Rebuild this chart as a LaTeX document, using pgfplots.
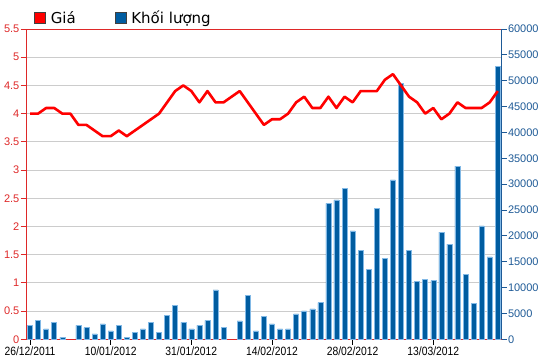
\documentclass[border=0pt]{standalone}
\usepackage{fontspec}
\setmainfont{Liberation Sans}
\newfontfamily\legfont{DejaVu Sans}
\newfontfamily\narrowfont[FakeStretch=0.86]{Liberation Sans}
\usepackage{pgfplots}
\usepackage{pgfplotstable}
\pgfplotsset{compat=1.18}
\definecolor{pricered}{RGB}{255,0,0}
\definecolor{axred}{RGB}{222,40,40}
\definecolor{barblue}{RGB}{0,92,160}
\definecolor{barhalo}{RGB}{130,185,230}
\definecolor{axblue}{RGB}{30,90,150}

\pgfplotstableread{
x v
0 2710
1 3680
2 2000
3 3290
4 390
6 2710
7 2250
8 1030
9 2960
10 1610
11 2710
12 390
13 1350
14 2000
15 3290
16 1350
17 4650
18 6580
19 3290
20 2000
21 2710
22 3680
23 9540
24 2250
26 3540
27 8510
28 1610
29 4450
30 2960
31 2000
32 2000
33 4900
34 5480
35 5870
36 7090
37 26300
38 26950
39 29150
40 20960
41 17150
42 13550
43 25350
44 15670
45 30830
46 49540
47 17150
48 11150
49 11610
50 11340
51 20700
52 18380
53 33480
54 12580
55 6970
56 21920
57 15920
58 52750
}\voltable

\pgfplotstableread{
x p
0 4.0
1 4.0
2 4.1
3 4.1
4 4.0
5 4.0
6 3.8
7 3.8
8 3.7
9 3.6
10 3.6
11 3.7
12 3.6
13 3.7
14 3.8
15 3.9
16 4.0
17 4.2
18 4.4
19 4.5
20 4.4
21 4.2
22 4.4
23 4.2
24 4.2
25 4.3
26 4.4
27 4.2
28 4.0
29 3.8
30 3.9
31 3.9
32 4.0
33 4.2
34 4.3
35 4.1
36 4.1
37 4.3
38 4.1
39 4.3
40 4.2
41 4.4
42 4.4
43 4.4
44 4.6
45 4.7
46 4.5
47 4.3
48 4.2
49 4.0
50 4.1
51 3.9
52 4.0
53 4.2
54 4.1
55 4.1
56 4.1
57 4.2
58 4.4
}\pricetable

\pgfplotsset{common/.style={scale only axis, width=475.8bp, height=310.3bp,
  at={(26bp,24.7bp)}, anchor=south west, xmin=-0.5, xmax=58.5,
  /pgf/number format/assume math mode=true}}

\begin{document}
\begin{tikzpicture}
\path[use as bounding box] (0,0) rectangle (550bp,364bp);
% grid, left axis, x axis
\begin{axis}[common, ymin=0, ymax=5.5,
  ytick={0,0.5,1,1.5,2,2.5,3,3.5,4,4.5,5,5.5},
  yticklabels={0,0.5,1,1.5,2,2.5,3,3.5,4,4.5,5,5.5},
  xtick={0,10,20,30,40,50},
  xticklabels={26/12/2011,10/01/2012,31/01/2012,14/02/2012,28/02/2012,13/03/2012},
  xtick pos=bottom, ytick pos=left, tick align=outside, major tick length=5.5bp,
  ymajorgrids, grid style={draw=black!20, line width=0.9bp},
  x axis line style={draw=black!85, line width=0.9bp},
  y axis line style={draw=axred, line width=0.9bp},
  x tick style={draw=black, line width=0.8bp},
  y tick style={draw=axred, line width=0.8bp},
  xticklabel style={font=\narrowfont\fontsize{12bp}{14bp}\selectfont, text=black, inner sep=1.5bp},
  yticklabel style={font=\fontsize{11bp}{13bp}\selectfont, text=axred, inner sep=1bp},
]
\addplot[draw=none, forget plot] coordinates {(0,0)};
\end{axis}
% bars, right axis
\begin{axis}[common, ymin=0, ymax=60000,
  axis y line*=right, axis x line=none,
  ytick={0,5000,10000,15000,20000,25000,30000,35000,40000,45000,50000,55000,60000},
  yticklabels={0,5000,10000,15000,20000,25000,30000,35000,40000,45000,50000,55000,60000},
  scaled y ticks=false, tick align=outside, major tick length=5bp,
  y axis line style={draw=axblue, line width=0.9bp},
  y tick style={draw=axblue, line width=0.8bp},
  yticklabel style={font=\fontsize{11bp}{13bp}\selectfont, text=axblue, inner sep=1bp},
  ybar, bar width=5bp,
]
\addplot[fill=barblue, draw=barhalo, line width=0.5bp] table[x=x,y=v]{\voltable};
\end{axis}
% price line and legend
\begin{axis}[common, ymin=0, ymax=5.5, hide axis,
  legend columns=2,
  legend style={draw=none, fill=none, inner sep=0pt,
    at={(0.0168,1.0355)}, anchor=west,
    font=\legfont\fontsize{15bp}{18bp}\selectfont,
    nodes={inner sep=0pt, text height=11bp, text depth=0bp},
    cells={anchor=west},
    /tikz/every odd column/.style={column sep=5bp},
    /tikz/every even column/.style={column sep=39bp}},
]
\addplot[pricered, line width=2.6bp, line join=round, forget plot] table[x=x,y=p]{\pricetable};
\addlegendimage{legend image code/.code={\draw[fill=red, draw=black!75, line width=0.6bp] (0bp,-5.5bp) rectangle (11bp,5.5bp);}}
\addlegendentry{Giá}
\addlegendimage{legend image code/.code={\draw[fill=barblue, draw=black!75, line width=0.6bp] (0bp,-5.5bp) rectangle (11bp,5.5bp);}}
\addlegendentry{Khối lượng}
\end{axis}
\end{tikzpicture}
\end{document}
